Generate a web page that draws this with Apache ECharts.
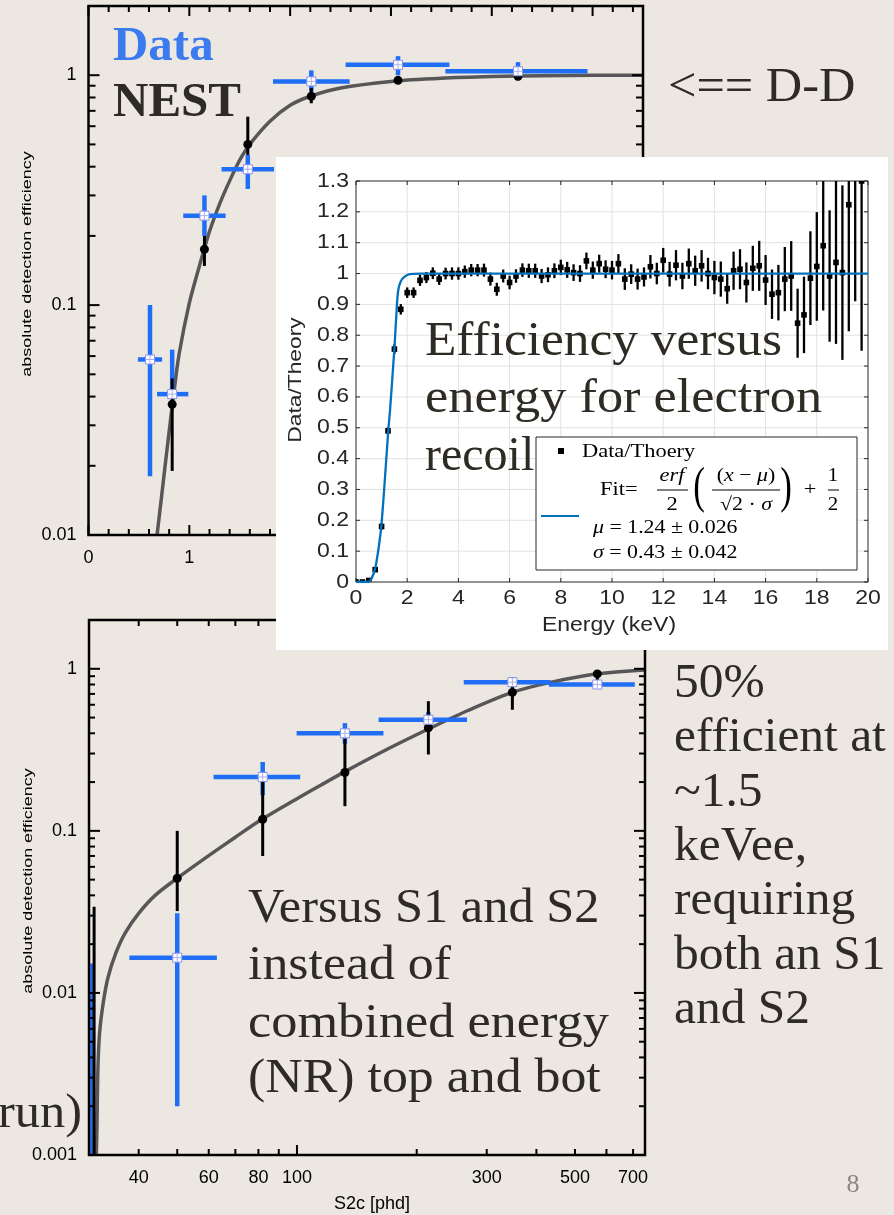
<!DOCTYPE html>
<html><head><meta charset="utf-8">
<script src="https://cdn.jsdelivr.net/npm/echarts@6/dist/echarts.min.js"></script>
<style>html,body{margin:0;padding:0;background:#ece8e1;}#c{width:894px;height:1215px;}</style>
</head><body><div id="c"></div>
<script>
// ===================== DATA =====================
// --- Top chart: D-D efficiency vs energy (keVnr) ---
const ddDataX   = [0.61, 0.83, 1.15, 1.58, 2.21, 3.07, 4.26];
const ddDataY   = [0.058, 0.041, 0.245, 0.39, 0.94, 1.11, 1.04];
const ddDataXLo = [0.49, 0.68, 0.94, 1.32, 1.83, 2.55, 3.54];
const ddDataXHi = [0.73, 0.99, 1.36, 1.84, 2.59, 3.58, 4.95];
const ddDataYLo = [0.018, 0.04, 0.20, 0.32, 0.85, 1.0, 0.95];
const ddDataYHi = [0.1, 0.064, 0.30, 0.45, 1.05, 1.21, 1.14];
const ddNestX   = [0.83, 1.15, 1.58, 2.21, 3.07, 4.26];
const ddNestY   = [0.037, 0.175, 0.50, 0.81, 0.95, 0.99];
const ddNestYLo = [0.019, 0.148, 0.45, 0.755, 0.93, 0.98];
const ddNestYHi = [0.048, 0.20, 0.66, 0.88, 0.97, 1.0];
const ddCurveX  = [0.68,0.72,0.76,0.8,0.85,0.9,1.0,1.1,1.2,1.3,1.4,1.5,1.6,1.8,2.0,2.2,2.5,3.0,3.5,4.0,4.5,5.0,5.5];
const ddCurveY  = [0.01,0.0141,0.02,0.0282,0.0427,0.0617,0.102,0.148,0.209,0.275,0.347,0.427,0.50,0.63,0.74,0.81,0.88,0.94,0.97,0.986,0.995,1.0,1.0];
const ddTicksX      = [0, 1, 2, 3, 4, 5];
const ddTickLabelsX = ['0', '1', '2', '3', '4', '5'];
const ddMinorX      = [0.2,0.4,0.6,0.8,1.2,1.4,1.6,1.8,2.2,2.4,2.6,2.8,3.2,3.4,3.6,3.8,4.2,4.4,4.6,4.8,5.2,5.4];
const ddTicksY      = [0.01, 0.1, 1];
const ddTickLabelsY = ['0.01', '0.1', '1'];
const ddMinorY      = [0.02,0.03,0.04,0.05,0.06,0.07,0.08,0.09,0.2,0.3,0.4,0.5,0.6,0.7,0.8,0.9];

// --- Bottom chart: efficiency vs S2c ---
const s2DataX   = [30.6, 50, 82, 132, 214, 348, 569];
const s2DataY   = [0.0008, 0.0165, 0.215, 0.40, 0.485, 0.827, 0.80];
const s2DataXLo = [30.6, 37.9, 61.7, 99.8, 160.4, 262.6, 430];
const s2DataXHi = [30.6, 62.9, 101.9, 165, 267.7, 434, 707];
const s2DataYLo = [0.0005, 0.002, 0.166, 0.345, 0.437, 0.77, 0.78];
const s2DataYHi = [0.0152, 0.031, 0.266, 0.462, 0.54, 0.888, 0.83];
const s2NestX   = [30.9, 50, 82, 132, 214, 348, 569];
const s2NestY   = [0.0008, 0.051, 0.118, 0.229, 0.433, 0.715, 0.93];
const s2NestYLo = [0.0005, 0.032, 0.07, 0.142, 0.296, 0.559, 0.84];
const s2NestYHi = [0.034, 0.1, 0.211, 0.37, 0.631, 0.888, 0.98];
const s2CurveX  = [31.3,31.4,31.6,31.9,32.6,33.5,35,37,40,44,50,60,70,82,100,115,132,170,214,270,348,434,569,750];
const s2CurveY  = [0.001,0.0014,0.0035,0.0057,0.0088,0.0125,0.0175,0.0235,0.031,0.040,0.051,0.0703,0.0914,0.1186,0.158,0.192,0.232,0.322,0.425,0.555,0.715,0.824,0.931,0.984];
const s2TicksX      = [40, 60, 80, 100, 300, 500, 700];
const s2TickLabelsX = ['40', '60', '80', '100', '300', '500', '700'];
const s2MajorX      = [100];
const s2MinorX      = [40,50,60,70,80,90,200,300,400,500,600,700];
const s2TicksY      = [0.001, 0.01, 0.1, 1];
const s2TickLabelsY = ['0.001', '0.01', '0.1', '1'];
const s2MinorY      = [0.002,0.003,0.004,0.005,0.006,0.007,0.008,0.009,0.02,0.03,0.04,0.05,0.06,0.07,0.08,0.09,0.2,0.3,0.4,0.5,0.6,0.7,0.8,0.9];

// --- Inset: Data/Theory vs energy (keV) ---
const insetEnergy = [0,0.25,0.5,0.75,1,1.25,1.5,1.75,2,2.25,2.5,2.75,3,3.25,3.5,3.75,4,4.25,4.5,4.75,5,5.25,5.5,5.75,6,6.25,6.5,6.75,7,7.25,7.5,7.75,8,8.25,8.5,8.75,9,9.25,9.5,9.75,10,10.25,10.5,10.75,11,11.25,11.5,11.75,12,12.25,12.5,12.75,13,13.25,13.5,13.75,14,14.25,14.5,14.75,15,15.25,15.5,15.75,16,16.25,16.5,16.75,17,17.25,17.5,17.75,18,18.25,18.5,18.75,19,19.25,19.5,19.75];
const insetRatio = [0,0,0.005,0.04,0.18,0.49,0.755,0.884,0.938,0.938,
  0.978,0.987,1.001,0.982,1.0,1.0,1.0,1.006,1.011,1.011,
  1.011,0.982,0.949,0.992,0.971,0.992,1.011,1.009,1.009,0.992,
  0.996,1.009,1.02,1.012,1.003,1.0,1.041,1.011,1.032,1.014,
  1.011,1.032,0.982,0.998,0.982,0.989,1.022,1.0,1.043,0.998,
  1.027,0.992,1.032,1.009,1.025,1.0,0.987,0.982,0.951,1.009,
  1.014,0.971,1.017,1.025,0.979,0.933,0.938,0.982,0.992,0.839,
  0.866,0.985,1.023,1.09,0.992,1.036,1.003,1.223,1.35,1.30];
const insetErr = [0.004,0.004,0.004,0.006,0.01,0.012,0.016,0.017,0.017,0.017,
  0.018,0.018,0.019,0.019,0.019,0.02,0.02,0.02,0.02,0.02,
  0.021,0.021,0.021,0.021,0.022,0.022,0.022,0.023,0.023,0.023,
  0.024,0.024,0.025,0.026,0.027,0.027,0.027,0.028,0.029,0.029,
  0.03,0.031,0.035,0.032,0.034,0.031,0.038,0.035,0.04,0.04,
  0.049,0.043,0.049,0.049,0.051,0.051,0.054,0.057,0.049,0.062,
  0.065,0.065,0.073,0.081,0.081,0.08,0.09,0.104,0.113,0.112,
  0.124,0.152,0.176,0.21,0.213,0.264,0.283,0.41,0.44,0.55];
const insetFitE = [0,0.5,0.6,0.75,0.9,1.0,1.1,1.26,1.33,1.5,1.6,1.65,1.75,1.9,2.1,2.5,20];
const insetFitV = [0,0,0.01,0.044,0.12,0.19,0.3,0.49,0.557,0.757,0.9,0.946,0.975,0.99,0.998,1.0,1.0];
const insetTicksX      = [0,2,4,6,8,10,12,14,16,18,20];
const insetTickLabelsX = ['0','2','4','6','8','10','12','14','16','18','20'];
const insetTicksY      = [0,0.1,0.2,0.3,0.4,0.5,0.6,0.7,0.8,0.9,1,1.1,1.2,1.3];
const insetTickLabelsY = ['0','0.1','0.2','0.3','0.4','0.5','0.6','0.7','0.8','0.9','1','1.1','1.2','1.3'];

// ===================== STYLE =====================
const BG = '#ece8e1', BLUE = '#1f6ef5', INK = '#2e2a24', AX = '#000000', MAT = '#262626';
const SANS = '"Liberation Sans", Arial, sans-serif';
const SERIF = '"Liberation Serif", "Times New Roman", serif';

function ln(x1, y1, x2, y2, c, w) { return { type: 'line', shape: { x1, y1, x2, y2 }, style: { stroke: c, lineWidth: w } }; }
function tx(x, y, text, font, fill, align, valign, sx, rot, extra) {
  const st = Object.assign({ text, font, fill, textFill: fill, align, textAlign: align, verticalAlign: valign, textVerticalAlign: valign }, extra || {});
  return { type: 'text', x, y, rotation: rot || 0, scaleX: sx || 1, silent: true, style: st };
}

function frame(g, z, c) {
  return {
    type: 'custom', xAxisIndex: g, yAxisIndex: g, z: z, silent: true, clip: false,
    data: [[c.x0, c.y0]],
    renderItem: function (params, api) {
      const ch = [];
      const lb = api.coord([c.x0, c.y0]), rt = api.coord([c.x1, c.y1]);
      const L = lb[0], B = lb[1], R = rt[0], T = rt[1];
      (c.gridX || []).forEach(v => { const px = api.coord([v, c.y0])[0]; ch.push(ln(px, B, px, T, c.gridColor, 1)); });
      (c.gridY || []).forEach(v => { const py = api.coord([c.x0, v])[1]; ch.push(ln(L, py, R, py, c.gridColor, 1)); });
      c.xTicks.forEach(tk => tk[0].forEach(v => {
        const px = api.coord([v, c.y0])[0];
        ch.push(ln(px, B, px, B - tk[1], c.axisColor, c.tickWidth));
        ch.push(ln(px, T, px, T + tk[1], c.axisColor, c.tickWidth));
      }));
      c.yTicks.forEach(tk => tk[0].forEach(v => {
        const py = api.coord([c.x0, v])[1];
        ch.push(ln(L, py, L + tk[1], py, c.axisColor, c.tickWidth));
        ch.push(ln(R, py, R - tk[1], py, c.axisColor, c.tickWidth));
      }));
      ch.push({ type: 'rect', shape: { x: L, y: T, width: R - L, height: B - T }, style: { fill: 'none', stroke: c.axisColor, lineWidth: c.axisWidth } });
      c.xLabelVals.forEach((v, i) => {
        const px = api.coord([v, c.y0])[0];
        ch.push(tx(px, B + c.xLabelDy, c.xLabelTexts[i], c.labelFont, c.labelColor, 'center', 'middle', c.labelSx));
      });
      c.yLabelVals.forEach((v, i) => {
        const py = api.coord([c.x0, v])[1];
        ch.push(tx(L - c.yLabelDx, py, c.yLabelTexts[i], c.labelFont, c.labelColor, 'right', 'middle', c.labelSx));
      });
      if (c.xTitle) ch.push(tx((L + R) / 2 + c.xTitle.dx, B + c.xTitle.dy, c.xTitle.text, c.xTitle.font, c.labelColor, 'center', 'middle', c.xTitle.sx));
      if (c.yTitle) ch.push(tx(L - c.yTitle.dx, (T + B) / 2 + c.yTitle.dy, c.yTitle.text, c.yTitle.font, c.labelColor, 'center', 'middle', c.yTitle.sx, Math.PI / 2));
      return { type: 'group', children: ch };
    }
  };
}

function rows() { const a = arguments; return a[0].map((_, i) => Array.prototype.map.call(a, arr => arr[i])); }

function blueBars(g, data) {
  return { type: 'custom', xAxisIndex: g, yAxisIndex: g, z: 3, clip: true, silent: true, data: data,
    renderItem: function (p, api) {
      const x = api.value(0), y = api.value(1);
      const c = api.coord([x, y]);
      const xl = api.coord([api.value(2), y])[0], xh = api.coord([api.value(3), y])[0];
      const yl = api.coord([x, api.value(4)])[1], yh = api.coord([x, api.value(5)])[1];
      const ch = [ln(c[0], yl, c[0], yh, BLUE, 4.5)];
      if (xh - xl > 1) ch.push(ln(xl, c[1], xh, c[1], BLUE, 4.5));
      return { type: 'group', children: ch };
    } };
}
function blueMarks(g, data) {
  return { type: 'custom', xAxisIndex: g, yAxisIndex: g, z: 5, clip: true, silent: true, data: data,
    renderItem: function (p, api) {
      const c = api.coord([api.value(0), api.value(1)]); const s = 9;
      return { type: 'group', children: [
        { type: 'rect', shape: { x: c[0] - s / 2, y: c[1] - s / 2, width: s, height: s }, style: { fill: '#ffffff', stroke: '#8d92e8', lineWidth: 1 } },
        ln(c[0], c[1] - s / 2, c[0], c[1] + s / 2, '#a7b0f2', 1),
        ln(c[0] - s / 2, c[1], c[0] + s / 2, c[1], '#a7b0f2', 1)
      ] };
    } };
}
function nestPts(g, data) {
  return { type: 'custom', xAxisIndex: g, yAxisIndex: g, z: 4, clip: true, silent: true, data: data,
    renderItem: function (p, api) {
      const x = api.value(0);
      const c = api.coord([x, api.value(1)]);
      const yl = api.coord([x, api.value(2)])[1], yh = api.coord([x, api.value(3)])[1];
      return { type: 'group', children: [
        ln(c[0], yl, c[0], yh, '#000', 3),
        { type: 'circle', shape: { cx: c[0], cy: c[1], r: 4.5 }, style: { fill: '#000' } }
      ] };
    } };
}

// ===================== OPTION =====================
const chart = echarts.init(document.getElementById('c'), null, { renderer: 'canvas', width: 894, height: 1215 });

const RICH = { u: { font: '19px ' + SERIF, fill: '#000', textFill: '#000' }, i: { font: 'italic 19px ' + SERIF, fill: '#000', textFill: '#000' } };
const legendEls = [
  { type: 'rect', z: 14, silent: true, shape: { x: 536, y: 437, width: 321, height: 133 }, style: { fill: '#ffffff', stroke: MAT, lineWidth: 1 } },
  { type: 'rect', z: 15, silent: true, shape: { x: 558, y: 448, width: 6, height: 6 }, style: { fill: '#000' } },
  Object.assign(tx(582, 452, 'Data/Thoery', '19px ' + SERIF, '#000', 'left', 'middle', 1.18), { z: 15 }),
  Object.assign(tx(600, 490, 'Fit=', '19px ' + SERIF, '#000', 'left', 'middle', 1.18), { z: 15 }),
  Object.assign(tx(672, 476, 'erf', 'italic 19px ' + SERIF, '#000', 'center', 'middle', 1.18), { z: 15 }),
  Object.assign(ln(657, 490, 688, 490, '#000', 1), { z: 15 }),
  Object.assign(tx(672, 505, '2', '19px ' + SERIF, '#000', 'center', 'middle', 1.18), { z: 15 }),
  Object.assign(tx(699, 489, '(', '50px ' + SERIF, '#000', 'center', 'middle', 0.7), { z: 15 }),
  Object.assign(tx(746, 476, '{u|(}{i|x}{u| − }{i|μ}{u|)}', '19px ' + SERIF, '#000', 'center', 'middle', 1.15, 0, { rich: RICH }), { z: 15 }),
  Object.assign(ln(712, 490, 780, 490, '#000', 1), { z: 15 }),
  Object.assign(tx(746, 505, '{u|√2 · }{i|σ}', '19px ' + SERIF, '#000', 'center', 'middle', 1.15, 0, { rich: RICH }), { z: 15 }),
  Object.assign(tx(786, 489, ')', '50px ' + SERIF, '#000', 'center', 'middle', 0.7), { z: 15 }),
  Object.assign(tx(810, 490, '+', '19px ' + SERIF, '#000', 'center', 'middle', 1.18), { z: 15 }),
  Object.assign(tx(833, 476, '1', '19px ' + SERIF, '#000', 'center', 'middle', 1.1), { z: 15 }),
  Object.assign(ln(828, 490, 839, 490, '#000', 1), { z: 15 }),
  Object.assign(tx(833, 505, '2', '19px ' + SERIF, '#000', 'center', 'middle', 1.1), { z: 15 }),
  Object.assign(ln(541, 516, 579, 516, '#0072bd', 2.2), { z: 15 }),
  Object.assign(tx(593, 528, '{i|μ}{u| = 1.24 ± 0.026}', '19px ' + SERIF, '#000', 'left', 'middle', 1.15, 0, { rich: RICH }), { z: 15 }),
  Object.assign(tx(593, 553, '{i|σ}{u| = 0.43 ± 0.042}', '19px ' + SERIF, '#000', 'left', 'middle', 1.15, 0, { rich: RICH }), { z: 15 })
];

const BIG = '48px ' + SERIF;
const slideTexts = [
  Object.assign(tx(113, 47.5, 'Data', 'bold 48px ' + SERIF, '#3c7bef', 'left', 'middle', 1.02), { z: 6 }),
  Object.assign(tx(113, 103.5, 'NEST', 'bold 49px ' + SERIF, INK, 'left', 'middle', 1.0), { z: 6 }),
  Object.assign(tx(668, 88, '<== D-D', BIG, INK, 'left', 'middle', 1.05), { z: 6 }),
  Object.assign(tx(674, 684, '50%', BIG, INK, 'left', 'middle', 1.03), { z: 6 }),
  Object.assign(tx(674, 738, 'efficient at', BIG, INK, 'left', 'middle', 1.03), { z: 6 }),
  Object.assign(tx(674, 793, '~1.5', BIG, INK, 'left', 'middle', 1.03), { z: 6 }),
  Object.assign(tx(674, 847, 'keVee,', BIG, INK, 'left', 'middle', 1.03), { z: 6 }),
  Object.assign(tx(674, 901, 'requiring', BIG, INK, 'left', 'middle', 1.03), { z: 6 }),
  Object.assign(tx(674, 956, 'both an S1', BIG, INK, 'left', 'middle', 1.03), { z: 6 }),
  Object.assign(tx(674, 1010, 'and S2', BIG, INK, 'left', 'middle', 1.03), { z: 6 }),
  Object.assign(tx(248, 909, 'Versus S1 and S2', BIG, INK, 'left', 'middle', 1.05), { z: 6 }),
  Object.assign(tx(248, 966, 'instead of', BIG, INK, 'left', 'middle', 1.08), { z: 6 }),
  Object.assign(tx(248, 1024, 'combined energy', BIG, INK, 'left', 'middle', 1.09), { z: 6 }),
  Object.assign(tx(248, 1079, '(NR) top and bot', BIG, INK, 'left', 'middle', 1.08), { z: 6 }),
  Object.assign(tx(82, 1114, 'run)', BIG, INK, 'right', 'middle', 1.05), { z: 6 }),
  Object.assign(tx(853, 1185, '8', '26px ' + SERIF, '#8b8680', 'center', 'middle', 1), { z: 6 }),
  { type: 'rect', z: 10, silent: true, shape: { x: 276, y: 157, width: 612, height: 493 }, style: { fill: '#ffffff' } },
  Object.assign(tx(425, 342, 'Efficiency versus', BIG, INK, 'left', 'middle', 1.07), { z: 16 }),
  Object.assign(tx(425, 399.5, 'energy for electron', BIG, INK, 'left', 'middle', 1.09), { z: 16 }),
  Object.assign(tx(425, 457, 'recoil', BIG, INK, 'left', 'middle', 1.0), { z: 16 })
];

const option = {
  animation: false,
  backgroundColor: BG,
  grid: [
    { left: 88.5, top: 6, width: 554.5, height: 529 },
    { left: 89, top: 620, width: 556, height: 535 },
    { left: 356, top: 181, width: 512, height: 401 }
  ],
  xAxis: [
    { gridIndex: 0, type: 'value', min: 0, max: 5.5, show: false },
    { gridIndex: 1, type: 'log', logBase: 10, min: 30, max: 750, show: false },
    { gridIndex: 2, type: 'value', min: 0, max: 20, show: false }
  ],
  yAxis: [
    { gridIndex: 0, type: 'log', logBase: 10, min: 0.01, max: 2, show: false },
    { gridIndex: 1, type: 'log', logBase: 10, min: 0.001, max: 2, show: false },
    { gridIndex: 2, type: 'value', min: 0, max: 1.3, show: false }
  ],
  graphic: { elements: slideTexts.concat(legendEls) },
  series: [
    // ---- top chart ----
    { type: 'line', xAxisIndex: 0, yAxisIndex: 0, z: 2, data: rows(ddCurveX, ddCurveY), showSymbol: false, symbol: 'none', smooth: 0.3, silent: true,
      lineStyle: { color: '#575757', width: 3.5 } },
    blueBars(0, rows(ddDataX, ddDataY, ddDataXLo, ddDataXHi, ddDataYLo, ddDataYHi)),
    nestPts(0, rows(ddNestX, ddNestY, ddNestYLo, ddNestYHi)),
    blueMarks(0, rows(ddDataX, ddDataY)),
    frame(0, 5, { x0: 0, x1: 5.5, y0: 0.01, y1: 2, axisColor: AX, axisWidth: 2.5, tickWidth: 2,
      xTicks: [[ddTicksX, 10], [ddMinorX, 6]], yTicks: [[ddTicksY, 11], [ddMinorY, 7]],
      xLabelVals: ddTicksX, xLabelTexts: ddTickLabelsX, yLabelVals: ddTicksY, yLabelTexts: ddTickLabelsY,
      labelFont: '18px ' + SANS, labelColor: '#000', labelSx: 1, xLabelDy: 23, yLabelDx: 12,
      yTitle: { text: 'absolute detection efficiency', font: '13.5px ' + SANS, sx: 1.33, dx: 61, dy: -6.5 } }),
    // ---- bottom chart ----
    { type: 'line', xAxisIndex: 1, yAxisIndex: 1, z: 2, data: rows(s2CurveX, s2CurveY), showSymbol: false, symbol: 'none', smooth: 0.3, silent: true,
      lineStyle: { color: '#575757', width: 3.5 } },
    blueBars(1, rows(s2DataX, s2DataY, s2DataXLo, s2DataXHi, s2DataYLo, s2DataYHi)),
    nestPts(1, rows(s2NestX, s2NestY, s2NestYLo, s2NestYHi)),
    blueMarks(1, rows(s2DataX, s2DataY)),
    frame(1, 5, { x0: 30, x1: 750, y0: 0.001, y1: 2, axisColor: AX, axisWidth: 2.5, tickWidth: 2,
      xTicks: [[s2MajorX, 10], [s2MinorX, 6]], yTicks: [[s2TicksY, 11], [s2MinorY, 6]],
      xLabelVals: s2TicksX, xLabelTexts: s2TickLabelsX, yLabelVals: s2TicksY, yLabelTexts: s2TickLabelsY,
      labelFont: '18px ' + SANS, labelColor: '#000', labelSx: 1, xLabelDy: 23, yLabelDx: 12,
      xTitle: { text: 'S2c [phd]', font: '18px ' + SANS, sx: 1, dx: 5, dy: 49 },
      yTitle: { text: 'absolute detection efficiency', font: '13.5px ' + SANS, sx: 1.33, dx: 61, dy: -6.5 } }),
    // ---- inset ----
    frame(2, 11, { x0: 0, x1: 20, y0: 0, y1: 1.3, axisColor: MAT, axisWidth: 1, tickWidth: 1,
      gridX: insetTicksX.slice(1, -1), gridY: insetTicksY.slice(1, -1), gridColor: '#e2e2e2',
      xTicks: [[insetTicksX, 4]], yTicks: [[insetTicksY, 4]],
      xLabelVals: insetTicksX, xLabelTexts: insetTickLabelsX, yLabelVals: insetTicksY, yLabelTexts: insetTickLabelsY,
      labelFont: '20px ' + SANS, labelColor: MAT, labelSx: 1.15, xLabelDy: 16, yLabelDx: 7,
      xTitle: { text: 'Energy (keV)', font: '20px ' + SANS, sx: 1.15, dx: -3, dy: 43 },
      yTitle: { text: 'Data/Theory', font: '19px ' + SANS, sx: 1.2, dx: 60, dy: -1.5 } }),
    { type: 'custom', xAxisIndex: 2, yAxisIndex: 2, z: 12, clip: true, silent: true,
      data: rows(insetEnergy, insetRatio, insetErr),
      renderItem: function (p, api) {
        const x = api.value(0), y = api.value(1), e = api.value(2);
        const c = api.coord([x, y]);
        const yl = api.coord([x, y - e])[1], yh = api.coord([x, y + e])[1];
        return { type: 'group', children: [
          ln(c[0], yl, c[0], yh, '#000', 2.3),
          { type: 'rect', shape: { x: c[0] - 2.8, y: c[1] - 2.8, width: 5.6, height: 5.6 }, style: { fill: '#000' } }
        ] };
      } },
    { type: 'line', xAxisIndex: 2, yAxisIndex: 2, z: 13, data: rows(insetFitE, insetFitV), showSymbol: false, symbol: 'none', smooth: 0.15, silent: true,
      lineStyle: { color: '#0072bd', width: 2.3 } }
  ]
};
chart.setOption(option);
</script>
</body></html>
